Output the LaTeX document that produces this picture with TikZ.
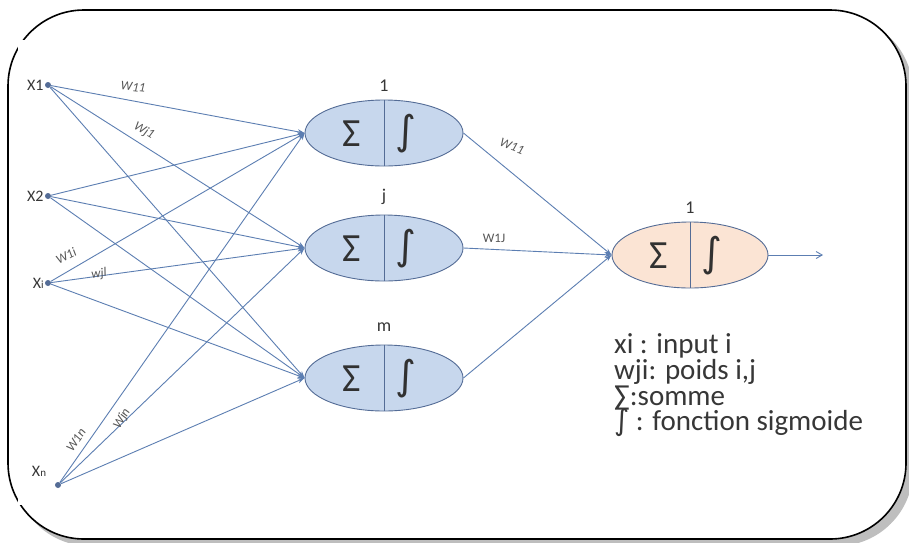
\documentclass[tikz,border=0pt]{standalone}
\usepackage{fontspec}
\setmainfont{Carlito}
\newfontfamily\symfont{DejaVu Sans}
\usetikzlibrary{arrows.meta,shapes.geometric}
\definecolor{lnc}{RGB}{92,126,178}
\definecolor{hfill}{RGB}{199,215,237}
\definecolor{ofill}{RGB}{251,228,212}
\definecolor{bord}{RGB}{84,108,150}
\definecolor{txt}{RGB}{55,55,55}
\definecolor{shad}{RGB}{190,190,190}
\tikzset{
  conn/.style={draw=lnc, line width=0.9pt, -{Stealth[length=7pt,width=5pt]}},
  dotn/.style={circle, fill=bord, inner sep=0pt, minimum size=6pt},
  neuron/.style={ellipse, draw=bord, line width=0.9pt, fill=hfill, minimum width=158pt, minimum height=66pt, inner sep=0pt},
  oneuron/.style={neuron, fill=ofill},
  inlab/.style={text=txt, font=\fontsize{16}{16}\selectfont, inner sep=1pt},
  wlab/.style={text=txt!85, font=\itshape\fontsize{13}{13}\selectfont, inner sep=0pt},
  toplab/.style={text=txt, font=\fontsize{18}{18}\selectfont, inner sep=0pt},
  sig/.style={text=txt!90!black, font=\fontsize{40}{40}\selectfont, inner sep=0pt},
  intg/.style={text=txt!90!black, font=\symfont\fontsize{40}{40}\selectfont, inner sep=0pt},
  leg/.style={text=txt, font=\fontsize{29}{29}\selectfont, inner sep=0pt, anchor=base west},
}
\begin{document}
\begin{tikzpicture}[x=1pt,y=-1pt]
\useasboundingbox (0,0) rectangle (909,542);
% frame with shadow
\fill[shad, rounded corners=76pt] (14,16) rectangle (913,546);
\draw[black, line width=1.6pt, fill=white, rounded corners=76pt] (8,10) rectangle (906,539);
\fill[white] (18,40) rectangle (880,505);

% input dots
\node[dotn] (x1) at (48,85) {};
\node[dotn] (x2) at (48,196) {};
\node[dotn] (xi) at (48,283) {};
\node[dotn] (xn) at (58,485) {};
\node[inlab, anchor=east] (lx1) at (x1.west) {X1};
\node[inlab, anchor=east] (lx2) at (x2.west) {X2};
\node[inlab, anchor=east] (lxi) at (xi.west) {X{\fontsize{11}{11}\selectfont i}};
\node[inlab] (lxn) at (39,471) {X{\fontsize{11}{11}\selectfont n}};

% hidden neurons
\node[neuron] (h1) at (384,133) {};
\node[neuron] (h2) at (384,248) {};
\node[neuron] (h3) at (384,378) {};
\foreach \h in {h1,h2,h3}{\draw[bord, line width=0.9pt] (\h.north) -- (\h.south);}
\node[sig] (s1) at (352,134) {Σ};
\node[intg] (i1) at (406,134) {∫};
\node[sig] (s2) at (352,249) {Σ};
\node[intg] (i2) at (406,249) {∫};
\node[sig] (s3) at (352,379) {Σ};
\node[intg] (i3) at (406,379) {∫};
\node[toplab] (t1) at (384,86) {1};
\node[toplab] (t2) at (384,197) {j};
\node[toplab] (t3) at (384,327) {m};

% output neuron
\node[oneuron, minimum width=156pt] (o) at (690,255) {};
\draw[bord, line width=0.9pt] (o.north) -- (o.south);
\node[sig] (so) at (659,256) {Σ};
\node[intg] (io) at (712,256) {∫};
\node[toplab] (to) at (690,208) {1};
\coordinate (out) at (823,255);
\draw[draw=lnc, line width=0.9pt, -{Straight Barb[length=6pt,width=7pt]}] (o.east) -- (out);

% input connections
\foreach \x in {x1,x2,xi,xn}{
  \foreach \h in {h1,h2,h3}{
    \draw[conn] (\x) -- (\h.west);
  }
}
% hidden to output
\foreach \h in {h1,h2,h3}{\draw[conn] (\h.east) -- (o.west);}

% weight labels
\node[wlab, rotate=-6] (w11a) at (133,87) {W11};
\node[wlab, rotate=-30] (wj1) at (144,131) {Wj1};
\node[wlab, rotate=28] (w1i) at (66,256) {W1i};
\node[wlab, rotate=8] (wjl) at (99,274) {wjl};
\node[wlab, rotate=56] (w1n) at (76,440) {W1n};
\node[wlab, rotate=60] (wjn) at (122,419) {Wjn};
\node[wlab, rotate=-22] (w11b) at (512,146) {W11};
\node[wlab, font=\fontsize{13}{13}\selectfont] (w1j) at (494,238) {W1J};

% legend
\node[leg] (l1) at (614,353) {xi : input i};
\node[leg] (l2) at (614,379) {wji: poids i,j};
\node[leg] (l3) at (614,405) {∑:somme};
\node[leg] (l4) at (614,430) {{\symfont\fontsize{29}{29}\selectfont ∫} : fonction sigmoide};
\end{tikzpicture}
\end{document}
